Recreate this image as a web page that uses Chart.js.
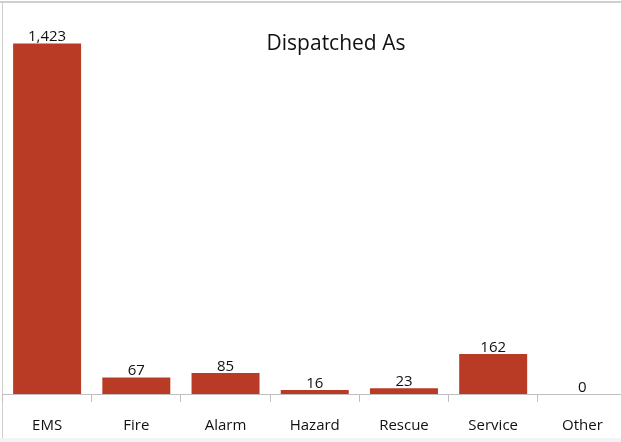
<!DOCTYPE html>
<html>
<head>
<meta charset="utf-8">
<script src="https://cdn.jsdelivr.net/npm/chart.js@4/dist/chart.umd.min.js"></script>
<style>
  html, body { margin: 0; padding: 0; background: #fff; overflow: hidden; }
  #wrap { position: relative; width: 630px; height: 442px; }
</style>
</head>
<body>
<div id="wrap"><canvas id="c" width="630" height="442"></canvas></div>
<script>
// Calls by dispatch type
const categories = ['EMS', 'Fire', 'Alarm', 'Hazard', 'Rescue', 'Service', 'Other'];
const dispatchCounts = [1423, 67, 85, 16, 23, 162, 0];
const chartTitle = 'Dispatched As';

const FONT = '"Open Sans", "Noto Sans", sans-serif';
const fmt = new Intl.NumberFormat('en-US');

// Frame lines and footer strip
const framePlugin = {
  id: 'frame',
  beforeDraw(chart) {
    const ctx = chart.ctx;
    ctx.save();
    ctx.fillStyle = '#fff';
    ctx.fillRect(0, 0, chart.width, chart.height);
    ctx.fillStyle = '#f3f3f3';
    ctx.fillRect(0, 438, chart.width, 4);
    ctx.fillStyle = '#cfcfcf';
    ctx.fillRect(0, 1, chart.width, 2);
    ctx.fillRect(2, 1, 1, 437);
    ctx.restore();
  }
};

// Floating title inside the plot
const titlePlugin = {
  id: 'floatTitle',
  afterDraw(chart) {
    const ctx = chart.ctx;
    ctx.save();
    ctx.font = '21px ' + FONT;
    ctx.fillStyle = '#111';
    ctx.textAlign = 'center';
    ctx.textBaseline = 'middle';
    ctx.fillText(chartTitle, 336, 44);
    ctx.restore();
  }
};

// Value labels above each bar
const valueLabels = {
  id: 'valueLabels',
  afterDatasetsDraw(chart) {
    const ctx = chart.ctx;
    const meta = chart.getDatasetMeta(0);
    ctx.save();
    ctx.font = '15px ' + FONT;
    ctx.fillStyle = '#111';
    ctx.textAlign = 'center';
    ctx.textBaseline = 'bottom';
    meta.data.forEach((bar, i) => {
      ctx.fillText(fmt.format(dispatchCounts[i]), bar.x, bar.y + 1);
    });
    ctx.restore();
  }
};

new Chart(document.getElementById('c'), {
  type: 'bar',
  data: {
    labels: categories,
    datasets: [{
      data: dispatchCounts,
      backgroundColor: '#B93A25',
      borderWidth: 0,
      categoryPercentage: 1,
      barPercentage: 0.762
    }]
  },
  options: {
    responsive: false,
    animation: false,
    layout: { padding: { left: 2.5, right: 3, top: 0, bottom: 0 } },
    plugins: { legend: { display: false }, tooltip: { enabled: false }, title: { display: false } },
    scales: {
      x: {
        offset: true,
        border: { display: true, color: '#bfbfbf', width: 1 },
        grid: { offset: true, drawOnChartArea: false, drawTicks: true, tickLength: 8, color: '#bfbfbf' },
        ticks: { color: '#111', font: { family: FONT, size: 15 }, padding: 15, maxRotation: 0 },
        afterFit(scale) { scale.height = 48; }
      },
      y: {
        display: false,
        min: 0,
        max: 1600
      }
    }
  },
  plugins: [framePlugin, titlePlugin, valueLabels]
});
</script>
</body>
</html>
